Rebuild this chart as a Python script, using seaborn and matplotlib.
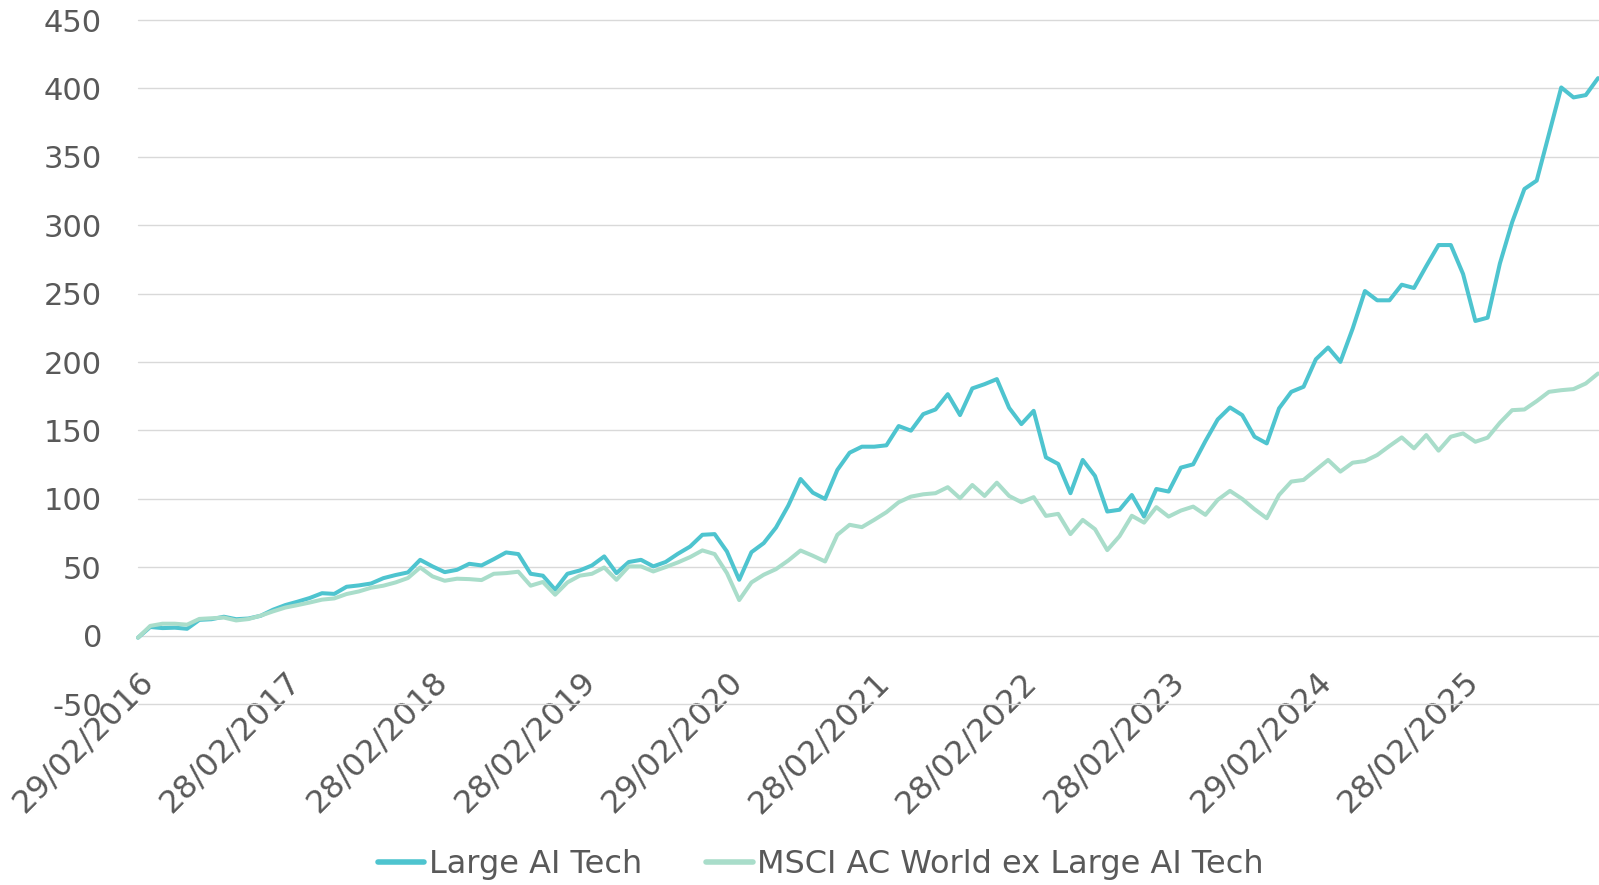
import numpy as np
import pandas as pd
import matplotlib
matplotlib.use("Agg")
import matplotlib.pyplot as plt
import seaborn as sns

# ---------------- data ----------------
dates = pd.date_range("2016-02-29", periods=120, freq="ME")

large_ai_tech = [
    -1.5, 6.3, 5.5, 5.8, 5.0, 11.5, 12.0, 13.8, 12.0, 12.5,
    14.5, 18.9, 22.3, 24.8, 27.5, 31.0, 30.5, 35.7, 36.7, 38.1,
    42.0, 44.3, 46.2, 55.4, 50.6, 46.4, 48.1, 52.5, 51.3, 55.9,
    60.8, 59.6, 45.2, 43.8, 33.6, 45.2, 47.6, 51.3, 57.9, 45.7,
    53.8, 55.4, 50.6, 53.8, 59.8, 65.1, 73.7, 74.2, 61.5, 40.8,
    61.0, 67.6, 79.0, 95.0, 114.5, 104.5, 99.9, 121.1, 133.7, 138.1,
    138.1, 139.1, 153.2, 149.8, 161.9, 165.3, 176.5, 161.2, 180.7, 183.8,
    187.5, 166.5, 154.6, 164.3, 130.3, 125.5, 104.1, 128.4, 116.7, 90.7,
    92.0, 102.8, 87.0, 107.2, 105.3, 122.8, 125.2, 142.2, 158.0, 166.8,
    161.2, 145.4, 140.5, 166.1, 178.2, 181.9, 202.0, 210.6, 200.1, 224.4,
    251.9, 245.1, 245.1, 256.5, 254.1, 270.1, 285.5, 285.5, 264.3, 230.0,
    232.4, 272.0, 302.2, 326.5, 332.6, 366.6, 400.7, 393.4, 395.1, 407.5,
]

msci_acwi_ex = [
    -1.5, 7.1, 8.7, 8.7, 8.0, 12.2, 12.7, 13.2, 11.1, 12.1,
    14.6, 17.7, 20.5, 22.3, 24.2, 26.3, 27.2, 30.4, 32.3, 35.0,
    36.5, 38.9, 42.1, 49.8, 43.3, 40.1, 41.6, 41.3, 40.6, 45.2,
    45.7, 46.7, 36.5, 39.2, 29.9, 38.9, 43.8, 45.2, 49.8, 40.8,
    50.6, 50.6, 46.9, 50.1, 53.5, 57.4, 62.3, 59.6, 45.7, 26.0,
    38.9, 44.5, 48.6, 54.9, 62.2, 58.4, 54.2, 73.7, 81.0, 79.3,
    84.6, 90.2, 97.5, 101.6, 103.3, 104.1, 108.5, 100.4, 110.1, 102.1,
    111.8, 102.1, 97.5, 101.2, 87.5, 89.0, 74.2, 84.6, 77.8, 62.5,
    72.7, 87.6, 82.6, 93.9, 87.0, 91.4, 94.3, 88.3, 99.2, 105.8,
    99.9, 92.4, 85.8, 102.8, 112.6, 113.8, 121.1, 128.4, 119.9, 126.4,
    127.6, 132.0, 138.6, 144.9, 136.9, 146.6, 135.2, 145.4, 147.8, 141.7,
    144.7, 155.6, 164.8, 165.3, 171.4, 178.2, 179.4, 180.2, 184.3, 191.6,
]

series_names = ["Large AI Tech", "MSCI AC World ex Large AI Tech"]
tick_labels = [
    "29/02/2016", "28/02/2017", "28/02/2018", "28/02/2019", "29/02/2020",
    "28/02/2021", "28/02/2022", "28/02/2023", "29/02/2024", "28/02/2025",
]
y_ticks = [-50, 0, 50, 100, 150, 200, 250, 300, 350, 400, 450]

# ---------------- build frame ----------------
pos = np.arange(len(dates))
df = pd.concat([
    pd.DataFrame({"pos": pos, "date": dates, "value": large_ai_tech, "series": series_names[0]}),
    pd.DataFrame({"pos": pos, "date": dates, "value": msci_acwi_ex, "series": series_names[1]}),
])

# ---------------- style ----------------
sns.set_style("white")
plt.rcParams["font.family"] = ["DejaVu Sans"]
plt.rcParams["axes.unicode_minus"] = False
text_col = "#595959"
palette = {series_names[0]: "#4EC4CF", series_names[1]: "#A9DDCA"}

fig = plt.figure(figsize=(15.99, 8.85), dpi=100)
ax = fig.add_axes([0.0863, 0.2045, 0.9131, 0.7729])

sns.lineplot(data=df, x="pos", y="value", hue="series", hue_order=series_names,
             palette=palette, linewidth=2.9, ax=ax, legend=True)

for ln in ax.lines:
    ln.set_solid_joinstyle("round")
    ln.set_solid_capstyle("round")
    ln.set_clip_on(False)

ax.set_xlim(0, len(dates) - 1)
ax.set_ylim(-50, 450)
ax.set_xlabel("")
ax.set_ylabel("")

for s in ax.spines.values():
    s.set_visible(False)
ax.spines["bottom"].set_position(("data", 0))

ax.set_axisbelow(True)
ax.yaxis.grid(True, color="#D9D9D9", linewidth=1.0)
ax.xaxis.grid(False)

ax.set_yticks(y_ticks)
ax.tick_params(axis="y", length=0, pad=26, labelsize=22, labelcolor=text_col)
for gl in ax.get_ygridlines():
    gl.set_clip_on(False)

ax.set_xticks(pos[::12], labels=tick_labels, rotation=45, ha="right", va="top",
              rotation_mode="anchor")
ax.tick_params(axis="x", length=0, pad=22, labelsize=23, labelcolor=text_col)

# legend
handles, labels = ax.get_legend_handles_labels()
ax.get_legend().remove()
for h in handles:
    h.set_linewidth(4)
    h.set_solid_capstyle("round")
leg = fig.legend(handles, labels, loc="center", bbox_to_anchor=(821 / 1599, 1 - 865 / 885),
                 ncol=2, frameon=False, fontsize=23, handlelength=1.45,
                 handletextpad=0.15, columnspacing=2.0)
for t in leg.get_texts():
    t.set_color(text_col)

fig.savefig("out.png", dpi=100)
